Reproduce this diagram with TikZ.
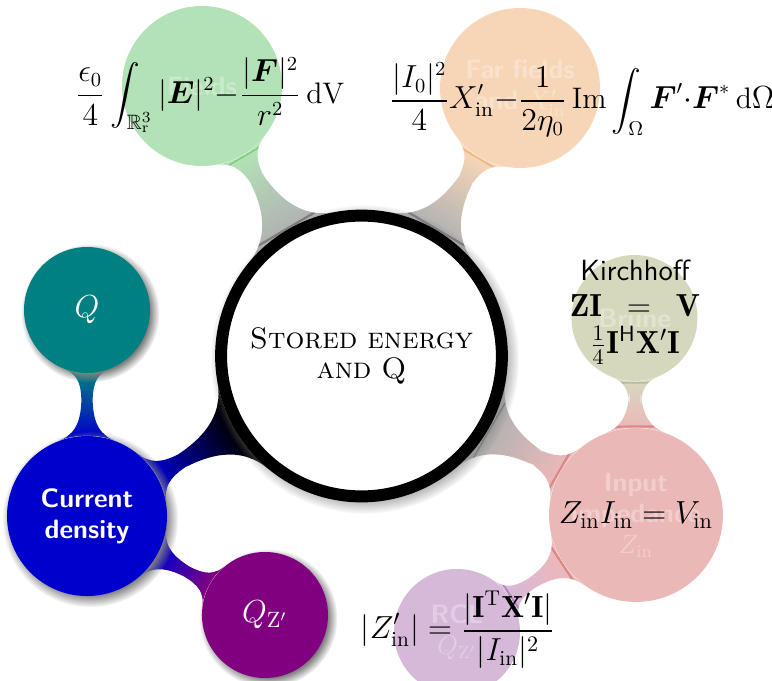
\documentclass[tikz,border=0pt]{standalone}
\usepackage{amsmath,amssymb}
\usepackage{fontspec}
\usetikzlibrary{mindmap,shadows,backgrounds}

\definecolor{fieldsgreen}{RGB}{0,160,10}
\definecolor{farorange}{RGB}{230,120,20}
\definecolor{bruneolive}{RGB}{120,125,40}
\definecolor{inred}{RGB}{190,20,20}
\definecolor{rclviolet}{RGB}{120,20,130}
\definecolor{curblue}{RGB}{0,0,204}
\definecolor{qzpurple}{RGB}{128,0,128}

\begin{document}
\begin{tikzpicture}[x=1cm,y=1cm,
  bubble/.style={circle, inner sep=0pt, align=center, text=white, font=\sffamily\bfseries\large},
  shadowed/.style={circular drop shadow},
  big/.style={bubble, minimum size=2.54cm, text width=2.3cm},
  small/.style={bubble, minimum size=2cm, text width=1.8cm},
  faded/.style={opacity=0.3},
  formula/.style={inner sep=0pt, font=\fontsize{13.4}{16}\selectfont},
  link/.style 2 args={circle connection bar switch color=from (#1) to (#2)},
]
\useasboundingbox (0,0) rectangle (12.254,10.794);

\node[bubble, shadowed, minimum size=4.457cm, text width=3.9cm, fill=white, draw=black, line width=0.19cm, text=black, font=\fontsize{13.4}{13.6}\selectfont\scshape] (root) at (5.738,5.143) {Stored energy\\and Q};

\node[big, faded, fill=fieldsgreen] (fields) at (3.206,9.429) {Fields};
\node[big, faded, fill=farorange] (farf) at (8.254,9.397) {Far fields\\and $X'_{\mathrm{in}}$};
\node[big, faded, fill=inred, minimum size=2.76cm] (inp) at (10.095,2.619) {Input\\impedance\\$Z_{\mathrm{in}}$};
\node[big, shadowed, fill=curblue] (cur) at (1.381,2.603) {Current\\density};

\node[small, faded, fill=bruneolive] (brune) at (10.071,5.746) {Brune};
\node[small, faded, fill=rclviolet] (rcl) at (7.254,0.762) {RCL\\$Q_{\mathrm{Z}'}$};
\node[small, shadowed, fill=teal] (q) at (1.381,5.873) {\Large$Q$};
\node[small, shadowed, fill=qzpurple] (qz) at (4.206,1.032) {\Large$Q_{\mathrm{Z}'}$};

\begin{scope}[on background layer]
\path (root) to[link={black}{curblue}] (cur);
\path (cur) to[link={curblue}{teal}] (q);
\path (cur) to[link={curblue}{qzpurple}] (qz);
\begin{scope}[opacity=0.3]
\path (root) to[link={black}{fieldsgreen}] (fields);
\path (root) to[link={black}{farorange}] (farf);
\path (root) to[link={black}{inred}] (inp);
\path (inp) to[link={inred}{bruneolive}] (brune);
\path (inp) to[link={inred}{rclviolet}] (rcl);
\end{scope}
\end{scope}

\node[formula] (fieldseq) at (3.333,9.286) {$\displaystyle\frac{\epsilon_0}{4}\int_{\mathbb{R}^3_{\mathrm{r}}}|\boldsymbol{E}|^2{-}\frac{|\boldsymbol{F}|^2}{r^2}\,\mathrm{dV}$};
\node[formula] (farfeq) at (9.24,9.206) {$\displaystyle\frac{|I_0|^2}{4}X'_{\mathrm{in}}{-}\frac{1}{2\eta_0}\,\mathrm{Im}\int_{\Omega}\boldsymbol{F}'{\cdot}\boldsymbol{F}^*\,\mathrm{d}\Omega$};
\node[formula, align=center, font=\Large] (kirch) at (10.079,5.84) {{\sffamily\fontsize{13.2}{16}\selectfont Kirchhoff}\\[-1.5pt]$\mathbf{ZI}\enskip=\enskip\mathbf{V}$\\[-1.5pt]$\tfrac{1}{4}\mathbf{I}^{\mathsf{H}}\mathbf{X}'\mathbf{I}$};
\node[formula, font=\Large] (inpeq) at (inp) {$Z_{\mathrm{in}}I_{\mathrm{in}} = V_{\mathrm{in}}$};
\node[formula, font=\fontsize{13.8}{16}\selectfont] (rcleq) at (7.27,0.794) {$\displaystyle|Z'_{\mathrm{in}}| = \frac{|\mathbf{I}^{\mathrm{T}}\mathbf{X}'\mathbf{I}|}{|I_{\mathrm{in}}|^2}$};
\end{tikzpicture}
\end{document}
